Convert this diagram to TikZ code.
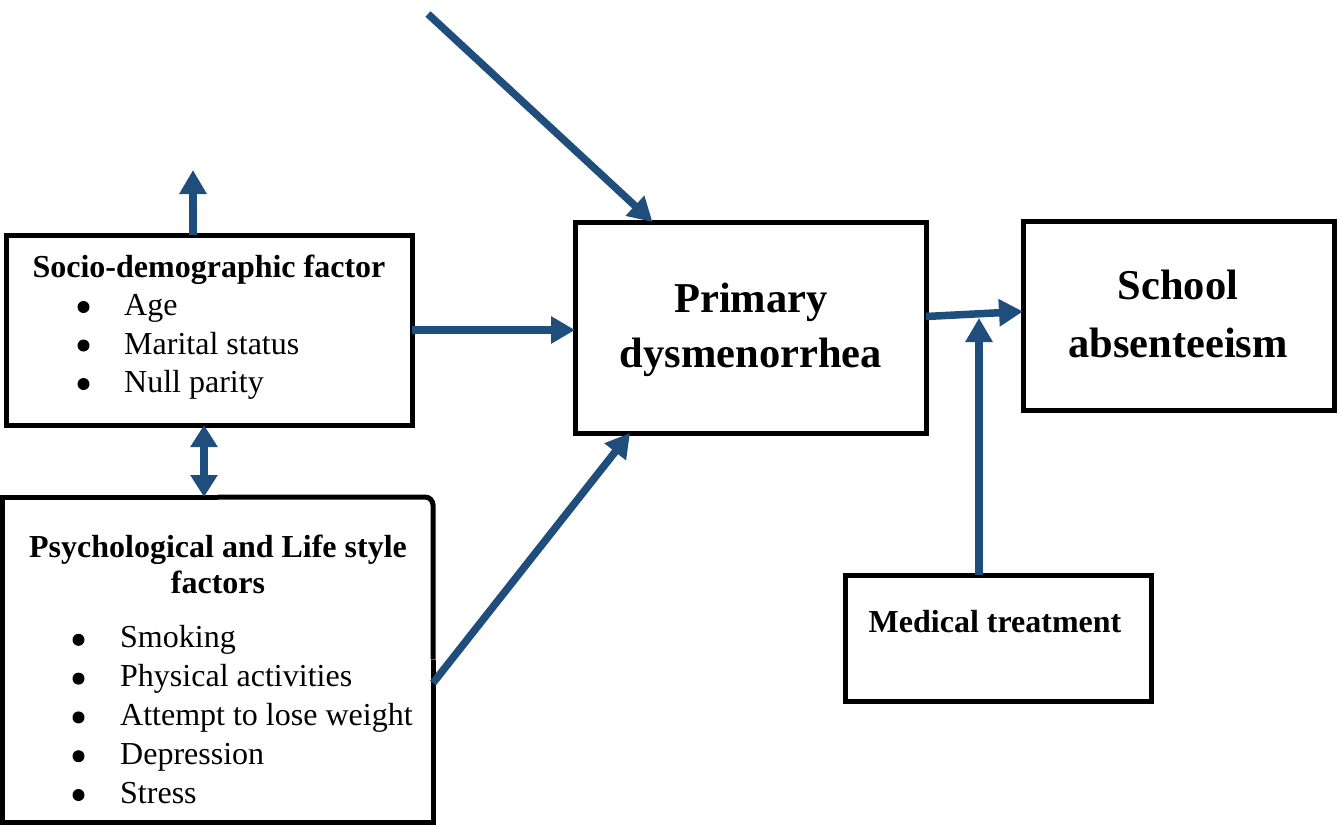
\documentclass[tikz,border=0pt]{standalone}
\usepackage{fontspec}
\setmainfont{Liberation Serif}
\usetikzlibrary{arrows.meta}
\definecolor{arrowblue}{RGB}{31,77,124}
\tikzset{
  box/.style={draw, line width=5pt, inner sep=0pt, outer sep=0pt},
  txt/.style={inner sep=0pt, font=\fontsize{32}{39}\selectfont},
  bigtxt/.style={inner sep=0pt, font=\fontsize{42.5}{51}\selectfont\bfseries},
  dot/.style={circle, fill=black, inner sep=0pt, minimum size=12pt},
  arr/.style={draw=arrowblue, line width=7.5pt, -{Triangle[width=26pt,length=24pt]}},
  dblarr/.style={draw=arrowblue, line width=7.5pt, {Triangle[width=26pt,length=22pt]}-{Triangle[width=26pt,length=22pt]}}
}

\begin{document}
\begin{tikzpicture}[x=1pt,y=-1pt]
            \useasboundingbox (0,0) rectangle (1339,825);
            % boxes
            \node[box, minimum width=406pt, minimum height=190pt] (socio) at (209,330) {};
            \node[box, draw=none, minimum width=431pt, minimum height=325pt] (psych) at (217.5,659.5) {};
            \draw[line width=5pt] (psych.north) -- (psych.north west) -- (psych.south west) -- (psych.south east) -- (psych.east);
            \draw[line width=5pt, rounded corners=8pt] (psych.north) -- (psych.north east) -- (psych.east);
            \node[box, minimum width=351pt, minimum height=211pt] (primary) at (750.5,327.5) {};
            \node[box, minimum width=311pt, minimum height=189pt] (school) at (1178.5,315.5) {};
            \node[box, minimum width=306pt, minimum height=126pt] (medical) at (998,638) {};
            % texts
            \node[txt, font=\fontsize{32}{39}\selectfont\bfseries, anchor=base] (socio-title) at (209,277) {Socio-demographic factor};
            \foreach \t [count=\i] in {Age,Marital status,Null parity}{
                \node[dot] (socio-b\i) at (83.5,268.5+38.5*\i) {};
                \node[txt, anchor=base west] (socio-t\i) at (124,277+38.5*\i) {\t};
            }
            \node[txt, font=\fontsize{32}{39}\selectfont\bfseries, anchor=base] (psych-title1) at (218,557) {Psychological and Life style};
            \node[txt, font=\fontsize{32}{39}\selectfont\bfseries, anchor=base] (psych-title2) at (218,593) {factors};
            \foreach \t [count=\i] in {Smoking,Physical activities,Attempt to lose weight,Depression,Stress}{
                \node[dot] (psych-b\i) at (78.5,601+38.8*\i) {};
                \node[txt, anchor=base west] (psych-t\i) at (120,609+38.8*\i) {\t};
            }
            \node[bigtxt, anchor=base] (primary-t1) at (751,312) {Primary};
            \node[bigtxt, anchor=base] (primary-t2) at (751,367) {dysmenorrhea};
            \node[bigtxt, anchor=base] (school-t1) at (1178,299) {School};
            \node[bigtxt, anchor=base] (school-t2) at (1178,357) {absenteeism};
            \node[txt, font=\fontsize{32}{39}\selectfont\bfseries, anchor=base] (medical-t) at (995,632) {Medical treatment};
            % arrows
            \coordinate (topStart) at (428,14);
            \coordinate (upTip) at (193,170);
            \coordinate (join) at (979,318);
            \draw[arr] (topStart) -- ([xshift=-98pt]primary.north);
            \draw[arr] ([xshift=-16pt]socio.north) -- (upTip);
            \draw[arr] (socio.east) -- (socio.east -| primary.west);
            \draw[dblarr] ([xshift=-5pt]socio.south) -- ([xshift=-13.5pt]psych.north);
            \draw[arr] ([yshift=-23.5pt]psych.east) -- ([xshift=55pt]primary.south west);
            \draw[arr] ([yshift=11pt]primary.east) -- ([yshift=4pt]school.west);
            \draw[arr] ([xshift=-19pt]medical.north) -- (join);
        \end{tikzpicture}
\end{document}
